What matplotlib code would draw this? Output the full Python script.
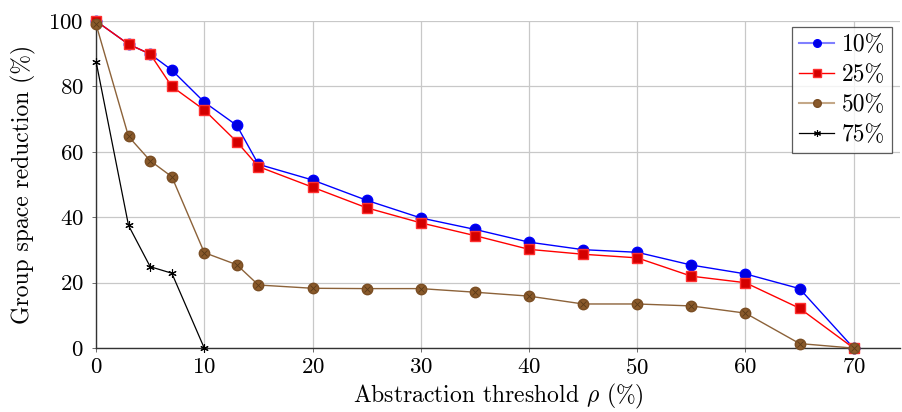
import matplotlib
matplotlib.use("Agg")
import matplotlib.pyplot as plt
from matplotlib.lines import Line2D

plt.rcParams['font.family'] = ['cmr10', 'DejaVu Serif']
plt.rcParams['mathtext.fontset'] = 'cm'
plt.rcParams['axes.formatter.use_mathtext'] = True

x_full = [0, 3, 5, 7, 10, 13, 15, 20, 25, 30, 35, 40, 45, 50, 55, 60, 65, 70]
s10 = [100, 92.9, 89.9, 85.0, 75.2, 68.1, 56.2, 51.4, 45.2, 39.8, 36.3, 32.4, 30.1, 29.3, 25.4, 22.7, 18.2, 0]
s25 = [100, 92.9, 89.9, 80.0, 72.8, 63.1, 55.5, 49.2, 42.9, 38.3, 34.4, 30.2, 28.7, 27.6, 22.0, 20.0, 12.2, 0]
s50 = [99.0, 64.7, 57.3, 52.4, 29.2, 25.5, 19.3, 18.3, 18.2, 18.2, 17.1, 15.9, 13.5, 13.5, 12.9, 10.7, 1.4, 0]
x75 = [0, 3, 5, 7, 10]
s75 = [87.6, 37.5, 24.9, 22.9, 0]
labels = ['10%', '25%', '50%', '75%']
xticks = [0, 10, 20, 30, 40, 50, 60, 70]
yticks = [0, 20, 40, 60, 80, 100]

fig = plt.figure(figsize=(9.02, 4.12), dpi=100)
ax = fig.add_axes([0.1065, 0.155, 0.8915, 0.794])

ax.plot(x_full, s10, color='#0000ff', lw=1.0, marker='o', ms=7.5,
        mfc='#0000e0', mec='#0000ff', clip_on=False, zorder=5)
ax.plot(x_full, s25, color='#ff0000', lw=1.0, marker='s', ms=7.5,
        mfc='#d40000', mec='#ff3030', clip_on=False, zorder=6)
ax.plot(x_full, s50, color='#8c6239', lw=1.0, marker='o', ms=7.5,
        mfc='#8a5a2b', mec='#7a4e24', clip_on=False, zorder=7)
ax.plot(x_full, s50, ls='none', marker='x', ms=4.5, mew=0.6,
        mec='#5a3a18', clip_on=False, zorder=8)
ax.plot(x75, s75, color='black', lw=0.9, marker=(6, 2, 0), ms=6, mew=0.8,
        clip_on=False, zorder=9)

ax.set_xlim(0, 74.3)
ax.set_ylim(0, 100)
ax.set_xticks(xticks)
ax.set_yticks(yticks)
ax.grid(True, color='#c8c8c8', lw=0.9)
ax.set_axisbelow(True)
for s in ['top', 'right']:
    ax.spines[s].set_visible(False)
for s in ['left', 'bottom']:
    ax.spines[s].set_color('#333333')
    ax.spines[s].set_linewidth(1.0)
ax.tick_params(direction='out', length=3, width=0.6, colors='#555555',
               labelcolor='black', labelsize=16.5)
ax.tick_params(axis='x', pad=4)
ax.tick_params(axis='y', pad=6)

ax.set_xlabel(r'Abstraction threshold $\rho$ (%)', fontsize=17, labelpad=3)
ax.set_ylabel('Group space reduction (%)', fontsize=17, labelpad=9)

handles = [
    Line2D([], [], color='#8080ff', lw=1.5, marker='o', ms=5.5, mfc='#0000e0', mec='#0000ff'),
    Line2D([], [], color='#ff0000', lw=1.0, marker='s', ms=5.5, mfc='#d40000', mec='#ff3030'),
    Line2D([], [], color='#c4a888', lw=1.5, marker='o', ms=5.5, mfc='#8a5a2b', mec='#7a4e24'),
    Line2D([], [], color='black', lw=0.9, marker=(6, 2, 0), ms=5, mew=0.8),
]
leg = ax.legend(handles, labels, loc='upper right',
                bbox_to_anchor=(892 / 902, (412 - 27) / 412),
                bbox_transform=fig.transFigure, borderaxespad=0,
                fontsize=17, frameon=True, fancybox=False, edgecolor='#333333',
                handlelength=1.5, borderpad=0.3, labelspacing=0.33,
                handletextpad=0.3)
leg.get_frame().set_linewidth(0.9)

fig.savefig('out.png', dpi=100)
